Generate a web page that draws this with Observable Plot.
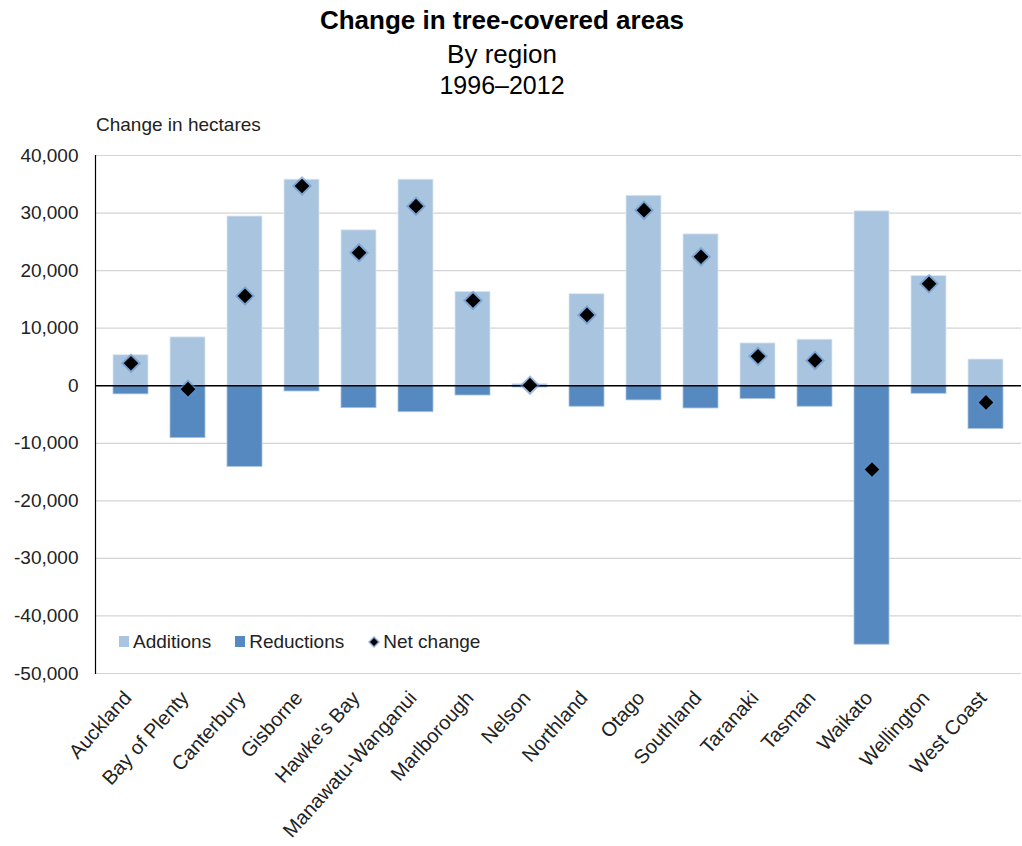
<!DOCTYPE html>
<html><head><meta charset="utf-8">
<script src="https://cdn.jsdelivr.net/npm/d3@7"></script>
<script src="https://cdn.jsdelivr.net/npm/@observablehq/plot@0.6"></script>
<style>
body{margin:0;background:#fff;font-family:"Liberation Sans",Arial,sans-serif;}
#wrap{position:relative;width:1022px;height:846px;overflow:hidden;}
.t{position:absolute;left:0;width:1004px;text-align:center;color:#000;white-space:nowrap;}
#chart{position:absolute;left:0;top:0;}
#ylab{position:absolute;left:96px;top:115px;font-size:19px;line-height:19px;color:#222;}
#legend{position:absolute;left:119px;top:632px;font-size:19px;line-height:19px;color:#222;display:flex;align-items:center;white-space:nowrap;}
.sw{display:inline-block;width:10px;height:11px;margin-right:4px;}
.item{display:flex;align-items:center;margin-right:24px;}
</style></head><body>
<div id="wrap">
<div id="chart"></div>
<div class="t" style="top:7px;font-size:26px;line-height:26px;font-weight:bold;">Change in tree-covered areas</div>
<div class="t" style="top:41px;font-size:26px;line-height:26px;">By region</div>
<div class="t" style="top:73px;font-size:25px;line-height:25px;">1996–2012</div>
<div id="ylab">Change in hectares</div>
<div id="legend"></div>
</div>
<script>
const regions = ["Auckland","Bay of Plenty","Canterbury","Gisborne","Hawke's Bay","Manawatu-Wanganui","Marlborough","Nelson","Northland","Otago","Southland","Taranaki","Tasman","Waikato","Wellington","West Coast"];
const additions = [5300, 8400, 29400, 35800, 27000, 35800, 16300, 300, 15900, 33000, 26300, 7350, 8000, 30300, 19050, 4550];
const reductions = [-1500, -9100, -14100, -1000, -3900, -4600, -1700, -300, -3650, -2550, -3950, -2300, -3650, -45000, -1400, -7500];
const netChange = [3900, -600, 15600, 34700, 23100, 31200, 14800, 100, 12300, 30500, 22400, 5100, 4400, -14550, 17700, -2900];
const yTicks = [-50000, -40000, -30000, -20000, -10000, 0, 10000, 20000, 30000, 40000];
const seriesNames = ["Additions", "Reductions", "Net change"];
const colors = {add: "#A9C4DF", red: "#5589C0", glow: "#5B8FCB"};

const data = regions.map((r, i) => ({region: r, add: additions[i], red: reductions[i], net: netChange[i]}));
const fmt = d => d3.format(",")(d).replace("\u2212", "-");

const chart = Plot.plot({
  width: 1022,
  height: 846,
  marginTop: 155,
  marginBottom: 173,
  marginLeft: 95,
  marginRight: 1,
  style: {fontFamily: "'Liberation Sans', Arial, sans-serif", fontSize: "19px", color: "#222", background: "white"},
  x: {domain: regions, paddingInner: 0.38, paddingOuter: 0.19, label: null},
  y: {domain: [-50000, 40000], label: null},
  marks: [
    Plot.ruleY(yTicks, {stroke: "#d4d4d4", strokeWidth: 1.2}),
    Plot.barY(data, {x: "region", y1: 0, y2: "add", fill: colors.add, stroke: "#dde8f3", strokeWidth: 0.8}),
    Plot.barY(data, {x: "region", y1: 0, y2: "red", fill: colors.red, stroke: "#a9c4df", strokeWidth: 0.8}),
    Plot.ruleY([0], {stroke: "#000", strokeWidth: 1.5}),
    Plot.frame({anchor: "left", stroke: "#000", strokeWidth: 1.2}),
    Plot.dot(data, {x: "region", y: "net", symbol: "diamond2", r: 9, fill: colors.glow, fillOpacity: 0.6, stroke: "none"}),
    Plot.dot(data, {x: "region", y: "net", symbol: "diamond2", r: 6.6, fill: "#000", stroke: "none"}),
    Plot.axisY({ticks: yTicks, tickFormat: fmt, tickSize: 0, tickPadding: 17, fontSize: 19}),
    Plot.axisX({tickRotate: -48, tickSize: 0, tickPadding: 21, dx: -3, fontSize: 20})
  ]
});
document.getElementById("chart").appendChild(chart);

const legend = document.getElementById("legend");
legend.innerHTML =
  `<span class="item"><span class="sw" style="background:${colors.add}"></span>${seriesNames[0]}</span>` +
  `<span class="item"><span class="sw" style="background:${colors.red}"></span>${seriesNames[1]}</span>` +
  `<span class="item"><svg width="12" height="12" style="margin-right:3px"><path d="M6,0L12,6L6,12L0,6Z" fill="${colors.glow}" opacity="0.7"/><path d="M6,2L10,6L6,10L2,6Z" fill="#000"/></svg>${seriesNames[2]}</span>`;
</script>
</body></html>
